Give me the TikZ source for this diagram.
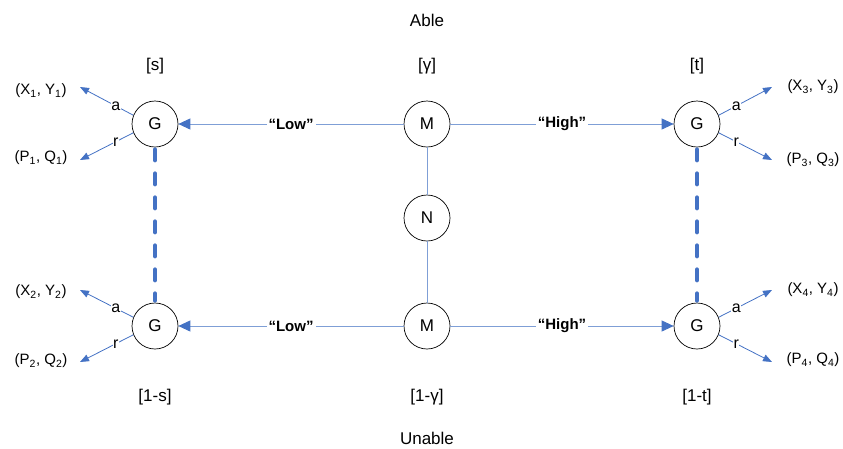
\documentclass[tikz,border=0pt]{standalone}
\usepackage{fontspec}
\setmainfont{Liberation Sans}
\usetikzlibrary{arrows.meta}
\definecolor{lb}{HTML}{4472C4}
\definecolor{lbl2}{HTML}{7F9FD6}
\begin{document}
\begin{tikzpicture}[x=1pt,y=-1pt,
  circ/.style={circle,draw=black,line width=0.7pt,minimum size=46pt,inner sep=0pt,font=\fontsize{17}{17}\selectfont},
  lbl/.style={font=\fontsize{17}{17}\selectfont},
  qlbl/.style={font=\bfseries\fontsize{15}{15}\selectfont,fill=white,inner sep=2pt},
  arlbl/.style={font=\fontsize{16}{16}\selectfont,fill=white,inner sep=0.5pt,pos=0.33},
  outlbl/.style={font=\fontsize{15}{15}\selectfont},
  bline/.style={draw=lbl2,line width=0.9pt},
  arr/.style={bline,-{Triangle[length=12pt,width=11pt,color=lb]}},
  sarr/.style={draw=lb,line width=0.8pt,-{Triangle[length=9pt,width=7pt]}},
  dashln/.style={draw=lb,line width=4pt,line cap=round,dash pattern=on 11pt off 13pt}]
\useasboundingbox (0,0) rectangle (843,448);
\node[circ] (G1) at (155,124) {G};
\node[circ] (M1) at (427,124) {M};
\node[circ] (G3) at (697,124) {G};
\node[circ] (N) at (427,218) {N};
\node[circ] (G2) at (155,326) {G};
\node[circ] (M2) at (427,326) {M};
\node[circ] (G4) at (697,326) {G};
\node[lbl] (able) at (427,20) {Able};
\node[lbl] (unable) at (427,438) {Unable};
\node[lbl] (ls) at (155,66) {[s]};
\node[lbl] (lg) at (427,66) {[γ]};
\node[lbl] (lt) at (697,66) {[t]};
\node[lbl] (l1s) at (155,397) {[1-s]};
\node[lbl] (l1g) at (427,397) {[1-γ]};
\node[lbl] (l1t) at (697,397) {[1-t]};
% M connections
\draw[bline] (M1) -- (N);
\draw[bline] (N) -- (M2);
\draw[arr] (M1) -- node[qlbl]{``Low''} (G1);
\draw[arr] (M1) -- node[qlbl]{``High''} (G3);
\draw[arr] (M2) -- node[qlbl]{``Low''} (G2);
\draw[arr] (M2) -- node[qlbl]{``High''} (G4);
\path (G1.south) ++(0,2) coordinate (d1) (G2.north) ++(0,-2) coordinate (d2);
\draw[dashln] (d1) -- (d2);
\path (G3.south) ++(0,2) coordinate (d3) (G4.north) ++(0,-2) coordinate (d4);
\draw[dashln] (d3) -- (d4);
% outcome endpoints
\coordinate (a1) at (80,87);  \coordinate (r1) at (80,160);
\coordinate (a2) at (80,290); \coordinate (r2) at (80,362);
\coordinate (a3) at (772,87); \coordinate (r3) at (772,160);
\coordinate (a4) at (772,290); \coordinate (r4) at (772,362);
\draw[sarr] (G1.158) -- node[arlbl]{a} (a1);
\draw[sarr] (G1.202) -- node[arlbl]{r} (r1);
\draw[sarr] (G2.158) -- node[arlbl]{a} (a2);
\draw[sarr] (G2.202) -- node[arlbl]{r} (r2);
\draw[sarr] (G3.22) -- node[arlbl]{a} (a3);
\draw[sarr] (G3.-22) -- node[arlbl]{r} (r3);
\draw[sarr] (G4.22) -- node[arlbl]{a} (a4);
\draw[sarr] (G4.-22) -- node[arlbl]{r} (r4);
\node[outlbl] (o1) at (41,91) {(X\textsubscript{1}, Y\textsubscript{1})};
\node[outlbl] (o2) at (41,158) {(P\textsubscript{1}, Q\textsubscript{1})};
\node[outlbl] (o3) at (41,292) {(X\textsubscript{2}, Y\textsubscript{2})};
\node[outlbl] (o4) at (41,361) {(P\textsubscript{2}, Q\textsubscript{2})};
\node[outlbl] (o5) at (813,87) {(X\textsubscript{3}, Y\textsubscript{3})};
\node[outlbl] (o6) at (813,160) {(P\textsubscript{3}, Q\textsubscript{3})};
\node[outlbl] (o7) at (813,290) {(X\textsubscript{4}, Y\textsubscript{4})};
\node[outlbl] (o8) at (813,360) {(P\textsubscript{4}, Q\textsubscript{4})};
\end{tikzpicture}
\end{document}
